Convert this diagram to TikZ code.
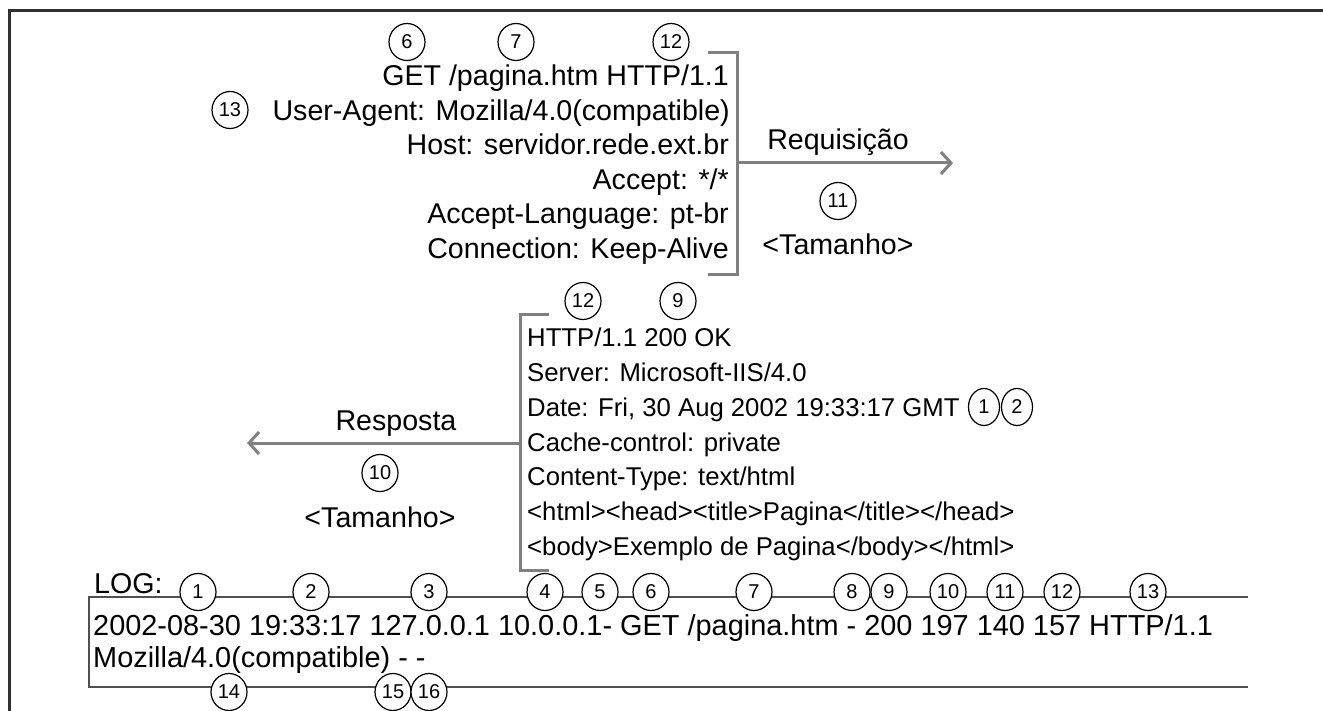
\documentclass[tikz,border=0pt]{standalone}
\usepackage{fontspec}
\setmainfont{Liberation Sans}
\usetikzlibrary{arrows.meta,shapes.geometric}
\definecolor{brkc}{HTML}{808080}
\definecolor{frmc}{HTML}{303030}
\definecolor{logc}{HTML}{505050}
\begin{document}
\begin{tikzpicture}[x=1pt,y=-1pt,
  txt/.style={font=\fontsize{28.6}{34}\selectfont, inner sep=0pt},
  rtxt/.style={font=\fontsize{25.7}{31}\selectfont, inner sep=0pt},
  ltxt/.style={font=\fontsize{28.9}{34}\selectfont, inner sep=0pt},
  num/.style={draw, ellipse, fill=white, line width=1.2pt, minimum width=36pt, minimum height=37pt, inner sep=0pt, font=\fontsize{20}{22}\selectfont},
  numn/.style={num, minimum width=31pt},
  brkline/.style={draw=brkc, line width=3pt},
  arr/.style={draw=brkc, line width=3pt, -{Straight Barb[length=10pt,width=22pt]}}]
\useasboundingbox (0,0) rectangle (1323,711);
% outer frame
\draw[frmc, line width=3pt] (9,711) -- (9,11) -- (1323,11);

% ---------- request ----------
\node[txt, anchor=base east] (r1) at (729,86)    {GET /pagina.htm HTTP/1.1};
\node[txt, anchor=base east] (r2) at (730,120.5) {User-Agent: Mozilla/4.0(compatible)};
\node[txt, anchor=base east] (r3) at (729,155)   {Host: servidor.rede.ext.br};
\node[txt, anchor=base east] (r4) at (729,189.5) {Accept: */*};
\node[txt, anchor=base east] (r5) at (729,224)   {Accept-Language: pt-br};
\node[txt, anchor=base east] (r6) at (729,258.5) {Connection: Keep-Alive};

\node[num] (q6)  at (407,42)  {6};
\node[num] (q7)  at (516,42)  {7};
\node[num] (q12) at (671,42)  {12};
\node[num] (q13) at (230,110) {13};

\coordinate (rbt) at (708,53);
\coordinate (rbb) at (708,275);
\draw[brkline] (rbt) -- (737,53) -- (737,275) -- (rbb);
\coordinate (rqs) at (737,163);
\coordinate (rqe) at (953,163);
\draw[arr] (rqs) -- (rqe);
\node[txt, anchor=base] (rql) at (838,150) {Requisição};
\node[num] (q11) at (838,201) {11};
\node[txt, anchor=base] (rqt) at (838,255) {<Tamanho>};

% ---------- response ----------
\node[rtxt, anchor=base west] (s1) at (527,347)   {HTTP/1.1 200 OK};
\node[rtxt, anchor=base west] (s2) at (527,381.7) {Server: Microsoft-IIS/4.0};
\node[rtxt, anchor=base west] (s3) at (527,416.3) {Date: Fri, 30 Aug 2002 19:33:17 GMT};
\node[rtxt, anchor=base west] (s4) at (527,451)   {Cache-control: private};
\node[rtxt, anchor=base west] (s5) at (527,485.7) {Content-Type: text/html};
\node[rtxt, anchor=base west] (s6) at (527,520.3) {<html><head><title>Pagina</title></head>};
\node[rtxt, anchor=base west] (s7) at (527,555)   {<body>Exemplo de Pagina</body></html>};

\node[num] (p12) at (583,301) {12};
\node[num] (p9)  at (678,301) {9};
\node[numn] (p1) at (984,407) {1};
\node[numn] (p2) at (1017,407) {2};

\coordinate (sbt) at (549,315);
\coordinate (sbb) at (549,570);
\draw[brkline] (sbt) -- (520,315) -- (520,570) -- (sbb);
\coordinate (rss) at (520,443);
\coordinate (rse) at (247,443);
\draw[arr] (rss) -- (rse);
\node[txt, anchor=base] (rsl) at (396,430) {Resposta};
\node[num] (p10) at (380,473) {10};
\node[txt, anchor=base] (rst) at (380,527) {<Tamanho>};

% ---------- log ----------
\node[txt, anchor=base west] (lg) at (94,593) {LOG:};
\coordinate (lbt) at (1248,597);
\coordinate (lbb) at (1248,687);
\draw[logc, line width=1.5pt] (lbt) -- (89,597) -- (89,687) -- (lbb);
\node[ltxt, anchor=base west] (l1) at (93,635) {2002-08-30 19:33:17 127.0.0.1 10.0.0.1- GET /pagina.htm - 200 197 140 157 HTTP/1.1};
\node[ltxt, anchor=base west] (l2) at (93,667) {Mozilla/4.0(compatible) - -};

\node[num] (g1)  at (198,592)  {1};
\node[num] (g2)  at (311,592)  {2};
\node[num] (g3)  at (429,592)  {3};
\node[num] (g4)  at (545,592)  {4};
\node[num] (g5)  at (600,592)  {5};
\node[num] (g6)  at (651,592)  {6};
\node[num] (g7)  at (754,592)  {7};
\node[num] (g8)  at (852,592)  {8};
\node[num] (g9)  at (889,592)  {9};
\node[num] (g10) at (948,592)  {10};
\node[num] (g11) at (1005,592) {11};
\node[num] (g12) at (1062,592) {12};
\node[num] (g13) at (1148,592) {13};
\node[num] (g14) at (229,692)  {14};
\node[num] (g15) at (393,692)  {15};
\node[num] (g16) at (429,692)  {16};
\end{tikzpicture}
\end{document}
